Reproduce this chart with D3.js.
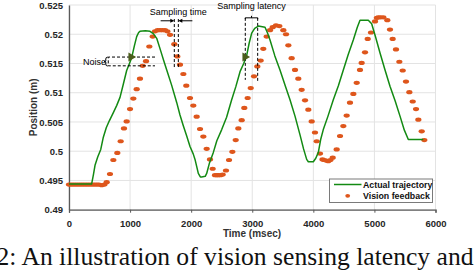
<!DOCTYPE html>
<html>
<head>
<meta charset="utf-8">
<script src="https://cdn.jsdelivr.net/npm/d3@7"></script>
<style>
  body { margin: 0; background: #fff; }
  svg { display: block; }
</style>
</head>
<body>
<svg id="root" width="474" height="274"></svg>
<script>
// actual trajectory (msec, m)
const actualT = [0, 371, 400, 426, 470, 520, 562, 610, 660, 726, 780, 835, 890, 944, 990, 1026, 1070, 1108, 1140, 1162, 1250, 1326, 1380, 1436, 1500, 1550, 1600, 1680, 1764, 1817, 1870, 1927, 1981, 2035, 2063, 2117, 2150, 2172, 2230, 2254, 2300, 2363, 2420, 2500, 2580, 2663, 2730, 2800, 2860, 2909, 2950, 2991, 3040, 3100, 3209, 3250, 3291, 3370, 3454, 3540, 3618, 3700, 3782, 3840, 3891, 3918, 4000, 4040, 4082, 4120, 4163, 4240, 4327, 4410, 4491, 4570, 4654, 4720, 4764, 4900, 4955, 5020, 5092, 5170, 5255, 5340, 5419, 5490, 5555, 5800]
const actualY = [0.4944, 0.4944, 0.4960, 0.4976, 0.4990, 0.5003, 0.5024, 0.5040, 0.5052, 0.5066, 0.5078, 0.5092, 0.5115, 0.5138, 0.5150, 0.5160, 0.5180, 0.5196, 0.5203, 0.5205, 0.5206, 0.5205, 0.5201, 0.5193, 0.5172, 0.5155, 0.5139, 0.5113, 0.5083, 0.5062, 0.5044, 0.5026, 0.5008, 0.4995, 0.4986, 0.4962, 0.4956, 0.4956, 0.4957, 0.4962, 0.4980, 0.4998, 0.5018, 0.5037, 0.5058, 0.5088, 0.5110, 0.5136, 0.5150, 0.5164, 0.5185, 0.5202, 0.5210, 0.5214, 0.5212, 0.5202, 0.5190, 0.5163, 0.5139, 0.5112, 0.5088, 0.5060, 0.5028, 0.5004, 0.4986, 0.4982, 0.4982, 0.4988, 0.4998, 0.5020, 0.5037, 0.5060, 0.5088, 0.5112, 0.5139, 0.5165, 0.5190, 0.5212, 0.5224, 0.5224, 0.5218, 0.5195, 0.5168, 0.5140, 0.5111, 0.5086, 0.5060, 0.5036, 0.5020, 0.5020]

// vision feedback samples (msec, m)
const visionT = [0, 35, 70, 105, 140, 175, 210, 245, 280, 315, 350, 385, 420, 455, 490, 535, 580, 617, 671, 726, 791, 846, 900, 944, 999, 1053, 1108, 1162, 1206, 1261, 1315, 1370, 1408, 1450, 1490, 1530, 1572, 1610, 1654, 1724, 1773, 1817, 1872, 1920, 1981, 2035, 2090, 2145, 2199, 2254, 2308, 2352, 2390, 2420, 2444, 2480, 2516, 2570, 2620, 2674, 2729, 2772, 2827, 2870, 2925, 2975, 3029, 3083, 3138, 3181, 3236, 3291, 3335, 3389, 3444, 3509, 3553, 3591, 3645, 3700, 3754, 3809, 3864, 3918, 3973, 4027, 4055, 4109, 4150, 4175, 4210, 4245, 4280, 4317, 4382, 4437, 4491, 4546, 4600, 4655, 4710, 4764, 4791, 4846, 4890, 4944, 5010, 5040, 5064, 5100, 5146, 5211, 5255, 5299, 5353, 5408, 5463, 5517, 5572, 5627, 5681, 5719, 5774, 5817]
const visionY = [0.4943, 0.4943, 0.4943, 0.4943, 0.4943, 0.4943, 0.4943, 0.4943, 0.4943, 0.4943, 0.4943, 0.4943, 0.4943, 0.4943, 0.4943, 0.4942, 0.4943, 0.4947, 0.4961, 0.4985, 0.4997, 0.5017, 0.5039, 0.5051, 0.5072, 0.5090, 0.5106, 0.5124, 0.5146, 0.5154, 0.5179, 0.5196, 0.5205, 0.5207, 0.5207, 0.5207, 0.5207, 0.5205, 0.5199, 0.5183, 0.5162, 0.5148, 0.5132, 0.5112, 0.5091, 0.5078, 0.5059, 0.5038, 0.5025, 0.5004, 0.4986, 0.4970, 0.4959, 0.4959, 0.4959, 0.4959, 0.4960, 0.4967, 0.4985, 0.4999, 0.5019, 0.5039, 0.5053, 0.5074, 0.5091, 0.5108, 0.5128, 0.5145, 0.5155, 0.5175, 0.5196, 0.5207, 0.5212, 0.5215, 0.5214, 0.5207, 0.5200, 0.5181, 0.5159, 0.5139, 0.5124, 0.5105, 0.5087, 0.5071, 0.5051, 0.5032, 0.5017, 0.4996, 0.4986, 0.4985, 0.4984, 0.4983, 0.4985, 0.4989, 0.5003, 0.5026, 0.5043, 0.5061, 0.5083, 0.5098, 0.5117, 0.5139, 0.5151, 0.5169, 0.5192, 0.5203, 0.5222, 0.5228, 0.5229, 0.5229, 0.5229, 0.5224, 0.5208, 0.5192, 0.5174, 0.5153, 0.5138, 0.5119, 0.5101, 0.5085, 0.5072, 0.5054, 0.5034, 0.5019]

const xTicks = [0, 1000, 2000, 3000, 4000, 5000, 6000]
const yTicks = [0.49, 0.495, 0.5, 0.505, 0.51, 0.515, 0.52, 0.525]
const legendLabels = ['Actual trajectory', 'Vision feedback']

const green = '#138a13';
const orange = '#de561c';
const font = 'Liberation Sans, Arial, sans-serif';

const svg = d3.select('#root');
const x = d3.scaleLinear().domain([0, 6000]).range([69, 435.5]);
const y = d3.scaleLinear().domain([0.49, 0.525]).range([209.7, 5]);

// grid
const grid = svg.append('g');
grid.selectAll('line.gx').data(xTicks).enter().append('line')
  .attr('x1', d => x(d)).attr('x2', d => x(d))
  .attr('y1', y(0.49)).attr('y2', y(0.525))
  .attr('stroke', '#e3e3e3').attr('stroke-width', 1);
grid.selectAll('line.gy').data(yTicks).enter().append('line')
  .attr('y1', d => y(d)).attr('y2', d => y(d))
  .attr('x1', x(0)).attr('x2', x(6000))
  .attr('stroke', '#e3e3e3').attr('stroke-width', 1);

// axes
const xAxis = svg.append('g')
  .attr('transform', `translate(0,${y(0.49)})`)
  .call(d3.axisBottom(x).tickValues(xTicks).tickSize(3).tickFormat(d3.format('d')));
const yAxis = svg.append('g')
  .attr('transform', `translate(${x(0)},0)`)
  .call(d3.axisLeft(y).tickValues(yTicks).tickSize(0).tickPadding(6).tickFormat(d => String(+d.toFixed(3))));
[xAxis, yAxis].forEach(a => {
  a.select('.domain').attr('stroke', '#5a5a5a').attr('stroke-width', 1.3);
  a.selectAll('.tick line').attr('stroke', '#5a5a5a');
  a.selectAll('text').attr('font-family', font).attr('font-size', 9.5)
    .attr('font-weight', 'bold').attr('fill', '#262626');
});
xAxis.selectAll('text').attr('dy', '1.15em');

svg.append('text')
  .attr('x', 252).attr('y', 236.5)
  .attr('text-anchor', 'middle')
  .attr('font-family', font).attr('font-size', 10).attr('font-weight', 'bold')
  .attr('fill', '#333')
  .text('Time (msec)');
svg.append('text')
  .attr('transform', `translate(37,${(y(0.49) + y(0.525)) / 2}) rotate(-90)`)
  .attr('text-anchor', 'middle')
  .attr('font-family', font).attr('font-size', 10).attr('font-weight', 'bold')
  .attr('fill', '#333')
  .text('Position (m)');

// vision feedback dots
svg.append('g')
  .selectAll('ellipse')
  .data(visionT.map((t, i) => [t, visionY[i]]))
  .enter()
  .append('ellipse')
  .attr('cx', d => x(d[0])).attr('cy', d => y(d[1]))
  .attr('rx', 3.1).attr('ry', 2.1)
  .attr('fill', orange);

// actual trajectory
const line = d3.line().x(d => x(d[0])).y(d => y(d[1]));
svg.append('path')
  .attr('d', line(actualT.map((t, i) => [t, actualY[i]])))
  .attr('fill', 'none').attr('stroke', green).attr('stroke-width', 1.5)
  .attr('stroke-linejoin', 'round');

// annotations
const ann = svg.append('g').attr('fill', 'none').attr('stroke', '#000').attr('stroke-width', 1);
const dash = '3,2';
// noise box
ann.append('path')
  .attr('d', `M${x(1408)},${y(0.5161)}H${x(643)}V${y(0.5146)}H${x(1408)}`)
  .attr('stroke-dasharray', dash);
ann.append('path')
  .attr('d', `M${x(643) - 0.5},${y(0.5161)}q-2,0 -2,2v1.8q0,0.7 -1.5,0.7q1.5,0 1.5,0.7v1.8q0,2 2,2`);
svg.append('text')
  .attr('x', x(605)).attr('y', y(0.5153) + 3.2)
  .attr('text-anchor', 'end')
  .attr('font-family', font).attr('font-size', 9)
  .text('Noise');
// sampling time
[1724, 1790].forEach(t => {
  ann.append('line')
    .attr('x1', x(t)).attr('x2', x(t)).attr('y1', y(0.5226)).attr('y2', y(0.5142))
    .attr('stroke-dasharray', dash);
});
ann.append('line').attr('x1', x(1500)).attr('x2', x(1700)).attr('y1', y(0.5223)).attr('y2', y(0.5223));
ann.append('line').attr('x1', x(2020)).attr('x2', x(1815)).attr('y1', y(0.5223)).attr('y2', y(0.5223));
svg.append('path')
  .attr('d', `M${x(1724)},${y(0.5223)}l-4,-2v4z M${x(1790)},${y(0.5223)}l4,-2v4z`)
  .attr('fill', '#000');
svg.append('text')
  .attr('x', x(1790)).attr('y', 14.5)
  .attr('text-anchor', 'middle')
  .attr('font-family', font).attr('font-size', 9)
  .text('Sampling time');
// sampling latency
[2886, 3089].forEach((t, i) => {
  ann.append('line')
    .attr('x1', x(t)).attr('x2', x(t)).attr('y1', y(0.5228)).attr('y2', y(i ? 0.5118 : 0.5122))
    .attr('stroke-dasharray', dash);
});
ann.append('path')
  .attr('d', `M${x(2886)},${y(0.5226)}v-1.2H${x(3089)}v1.2 M${(x(2886) + x(3089)) / 2},${y(0.5226) - 1.2}v-2`);
svg.append('text')
  .attr('x', (x(2886) + x(3089)) / 2).attr('y', 9)
  .attr('text-anchor', 'middle')
  .attr('font-family', font).attr('font-size', 9)
  .text('Sampling latency');
// markers on trajectory
const tri = d3.symbol().type(d3.symbolTriangle).size(34);
svg.append('g')
  .selectAll('path')
  .data([[1015, 0.5161], [2881, 0.5161]])
  .enter()
  .append('path')
  .attr('d', tri)
  .attr('transform', d => `translate(${x(d[0])},${y(d[1])}) rotate(90)`)
  .attr('fill', '#4b5d1c');

// legend
const lg = svg.append('g');
lg.append('rect')
  .attr('x', 329.5).attr('y', 179).attr('width', 103).attr('height', 23.5)
  .attr('fill', '#fff').attr('stroke', '#7a7a7a').attr('stroke-width', 1);
lg.append('line')
  .attr('x1', 334).attr('x2', 361.5).attr('y1', 184.5).attr('y2', 184.5)
  .attr('stroke', green).attr('stroke-width', 1.5);
lg.append('ellipse')
  .attr('cx', 347.7).attr('cy', 195.8).attr('rx', 2.4).attr('ry', 1.9).attr('fill', orange);
lg.selectAll('text').data(legendLabels).enter().append('text')
  .attr('x', 363).attr('y', (d, i) => 187.8 + i * 11.3)
  .attr('font-family', font).attr('font-size', 8.8).attr('font-weight', 'bold')
  .attr('fill', '#111')
  .text(d => d);

// caption (cut off at the edges, as in the source figure)
svg.append('text')
  .attr('x', -3.5).attr('y', 265)
  .attr('font-family', 'Liberation Serif, Times New Roman, serif').attr('font-size', 25.6)
  .attr('fill', '#111')
  .text('2: An illustration of vision sensing latency and');
</script>
</body>
</html>
